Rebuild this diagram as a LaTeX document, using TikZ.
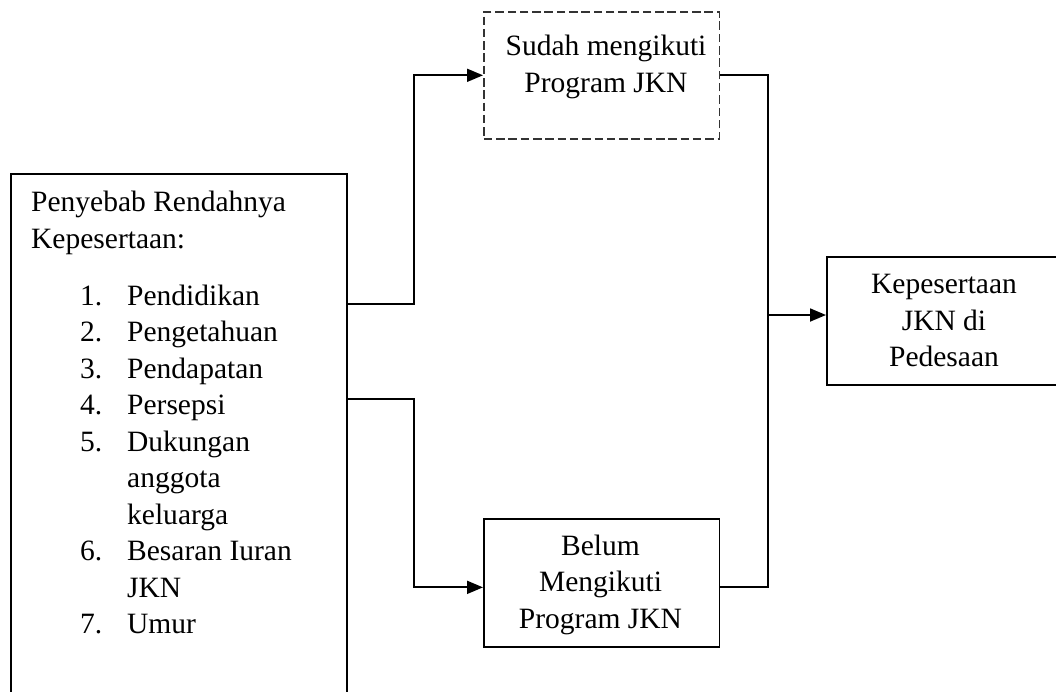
\documentclass[tikz,border=0pt]{standalone}
\usepackage{fontspec}
\setmainfont{Liberation Serif}
\usetikzlibrary{arrows.meta}
\newcommand{\mlines}[1]{\begin{tabular}[t]{@{}c@{}}#1\end{tabular}}
\begin{document}
\begin{tikzpicture}[x=1pt,y=-1pt,
  box/.style={draw=black,line width=1.7pt,rectangle,inner sep=0pt,anchor=north west},
  dbox/.style={box,draw=black!80,line width=1.6pt,dash pattern=on 8.5pt off 3.8pt},
  txt/.style={font=\fontsize{29.5}{36.5}\selectfont,inner sep=0pt,anchor=base},
  conn/.style={line width=1.8pt},
  arr/.style={conn,-{Triangle[length=16pt,width=13pt]}}]
\useasboundingbox (0,0) rectangle (1056,691);
\clip (0,0) rectangle (1056,691);
% left box
\node[box, minimum width=336pt, minimum height=600pt] (cause) at (10,173) {};
\node[txt, anchor=base west] (head) at (31,211.5) {\begin{tabular}[t]{@{}l@{}}Penyebab Rendahnya\\Kepesertaan:\end{tabular}};
\node[txt, anchor=base west] (list) at (80,305) {\begin{tabular}[t]{@{}p{47pt}@{}l@{}}1.&Pendidikan\\2.&Pengetahuan\\3.&Pendapatan\\4.&Persepsi\\5.&Dukungan\\&anggota\\&keluarga\\6.&Besaran Iuran\\&JKN\\7.&Umur\end{tabular}};
% top dashed box
\node[dbox, minimum width=235.5pt, minimum height=127pt] (top) at (483,11) {};
\node[txt] (toptxt) at (606,55.5) {\mlines{Sudah mengikuti\\Program JKN}};
% bottom box
\node[box, minimum width=235.5pt, minimum height=128pt] (bot) at (483,518) {};
\node[txt] (bottxt) at (600.5,555) {\mlines{Belum\\Mengikuti\\Program JKN}};
% right box
\node[box, minimum width=260pt, minimum height=128pt] (res) at (826,256) {};
\node[txt] (restxt) at (944,293.5) {\mlines{Kepesertaan\\JKN di\\Pedesaan}};
% connectors
\coordinate (ubend) at (414,304);
\coordinate (lbend) at (414,399);
\coordinate (j) at (768,315);
\draw[arr] (cause.east |- ubend) -- (ubend) |- (top.west);
\draw[arr] (cause.east |- lbend) -- (lbend) |- ([yshift=-4.5pt]bot.west);
\draw[conn] (top.east) -| (j) |- ([yshift=-4.5pt]bot.east);
\draw[arr] (j) -- (j -| res.west);
\end{tikzpicture}
\end{document}
